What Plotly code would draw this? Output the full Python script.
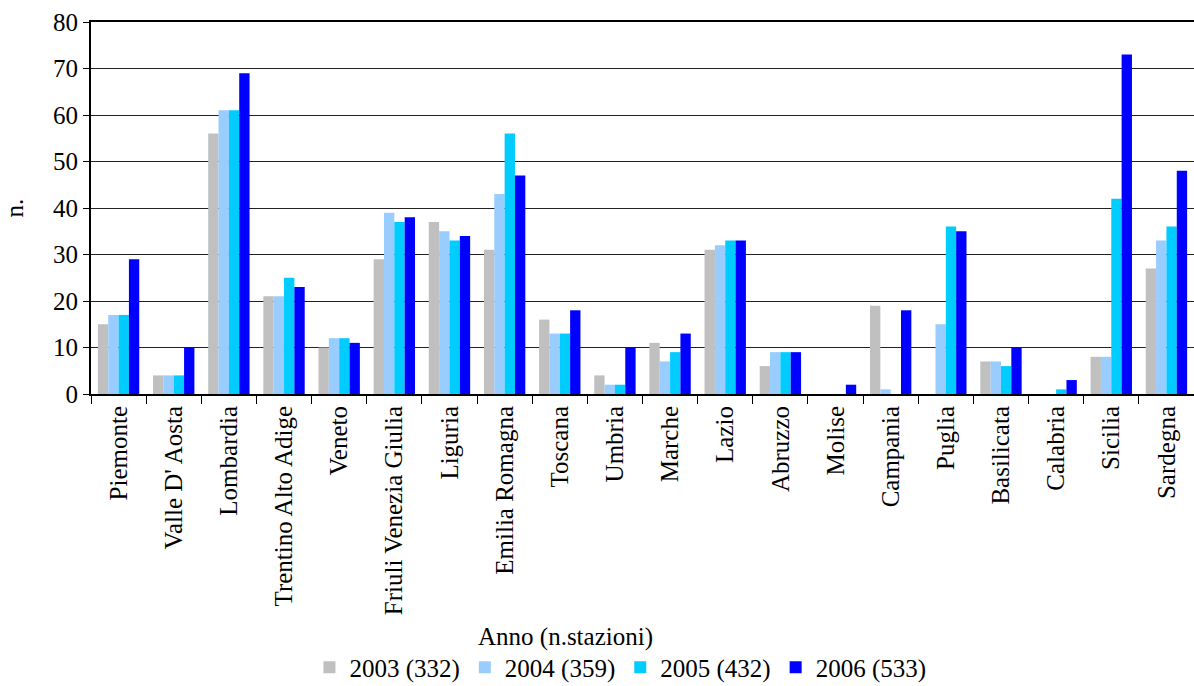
import plotly.graph_objects as go

regions = ["Piemonte", "Valle D' Aosta", "Lombardia", "Trentino Alto Adige", "Veneto",
           "Friuli Venezia Giulia", "Liguria", "Emilia Romagna", "Toscana", "Umbria",
           "Marche", "Lazio", "Abruzzo", "Molise", "Campania", "Puglia", "Basilicata",
           "Calabria", "Sicilia", "Sardegna"]

v2003 = [15, 4, 56, 21, 10, 29, 37, 31, 16, 4, 11, 31, 6, 0, 19, 0, 7, 0, 8, 27]
v2004 = [17, 4, 61, 21, 12, 39, 35, 43, 13, 2, 7, 32, 9, 0, 1, 15, 7, 0, 8, 33]
v2005 = [17, 4, 61, 25, 12, 37, 33, 56, 13, 2, 9, 33, 9, 0, 0, 36, 6, 1, 42, 36]
v2006 = [29, 10, 69, 23, 11, 38, 34, 47, 18, 10, 13, 33, 9, 2, 18, 35, 10, 3, 73, 48]

series_names = ["2003 (332)", "2004 (359)", "2005 (432)", "2006 (533)"]
series_colors = ["#C0C0C0", "#99CCFF", "#00CCFF", "#0000FF"]
y_ticks = [0, 10, 20, 30, 40, 50, 60, 70, 80]
legend_title = "Anno (n.stazioni)"

FONT = "Liberation Serif, Times New Roman, serif"

fig = go.Figure()
for name, vals, col in zip(series_names, [v2003, v2004, v2005, v2006], series_colors):
    fig.add_trace(go.Bar(x=regions, y=vals, name=name, marker=dict(color=col, line=dict(width=0))))

fig.update_layout(
    width=1194, height=686,
    margin=dict(l=91, r=0, t=22, b=292),
    paper_bgcolor="white", plot_bgcolor="white",
    barmode="group", bargap=0.25, bargroupgap=0,
    font=dict(family=FONT, size=25, color="black"),
    showlegend=True,
    legend=dict(
        orientation="h", x=0.48, xanchor="center",
        yref="container", y=0.027, yanchor="middle",
        font=dict(family=FONT, size=25), itemwidth=30, traceorder="normal",
    ),
)

# legend heading, placed as a free text line above the legend row
fig.add_annotation(
    text=legend_title, xref="paper", yref="paper",
    x=0.4306, xanchor="center", y=-0.6532, yanchor="middle",
    showarrow=False, font=dict(family=FONT, size=25),
)

fig.update_xaxes(
    type="category", tickangle=-90, tickfont=dict(family=FONT, size=25),
    showline=True, linecolor="black", linewidth=2, mirror=True,
    ticks="outside", tickson="boundaries", ticklen=8, tickcolor="black", tickwidth=1,
    showgrid=False, automargin=False,
)
fig.update_yaxes(
    range=[0, 80], tickvals=y_ticks, tickfont=dict(family=FONT, size=25),
    showline=True, linecolor="black", linewidth=2,
    ticks="outside", ticklen=6, tickcolor="black",
    showgrid=True, gridcolor="#222222", gridwidth=1, zeroline=False,
    title=dict(text="n.", font=dict(family=FONT, size=25), standoff=22),
    automargin=False,
)

fig.write_html("out.html")
